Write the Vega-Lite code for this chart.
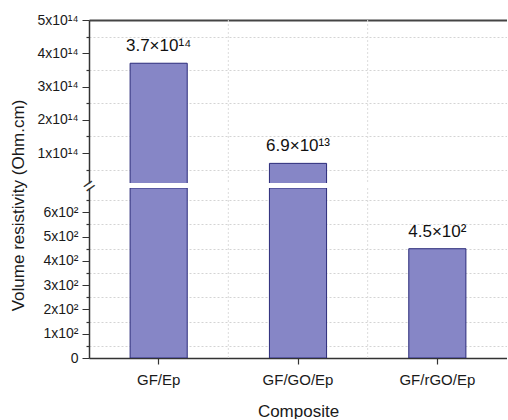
{
  "$schema": "https://vega.github.io/schema/vega-lite/v6.json",
  "padding": {"left": 8, "top": 13, "right": 0, "bottom": 0},
  "background": "white",
  "config": {
    "font": "Liberation Sans",
    "view": {"stroke": null},
    "axis": {
      "labelFont": "Liberation Sans",
      "titleFont": "Liberation Sans",
      "domainColor": "#333",
      "tickColor": "#333",
      "labelColor": "#1a1a1a",
      "titleColor": "#1a1a1a",
      "titleFontWeight": "normal",
      "labelFontSize": 14,
      "titleFontSize": 17,
      "domainWidth": 1.5,
      "tickWidth": 1.2,
      "labelOverlap": false
    }
  },
  "datasets": {
    "rows": [
      {"composite": "GF/Ep", "resistivity": 3.7e14, "label": "3.7×10¹⁴"},
      {"composite": "GF/GO/Ep", "resistivity": 6.9e13, "label": "6.9×10¹³"},
      {"composite": "GF/rGO/Ep", "resistivity": 450, "label": "4.5×10²"}
    ]
  },
  "data": {"name": "rows"},
  "spacing": 5,
  "bounds": "flush",
  "vconcat": [
    {
      "width": 418,
      "height": 163,
      "encoding": {
        "x": {
          "field": "composite", "type": "nominal", "sort": null,
          "scale": {"domain": ["GF/Ep", "GF/GO/Ep", "GF/rGO/Ep"], "paddingInner": 0, "paddingOuter": 0},
          "axis": {"orient": "top", "title": null, "labels": false, "ticks": false, "domain": true, "domainWidth": 2.2, "domainColor": "#444", "grid": false}
        }
      },
      "layer": [
        {
          "transform": [{"filter": "datum.composite != 'GF/Ep'"}],
          "mark": {"type": "rule", "color": "#dcdcdc", "strokeDash": [2, 2], "strokeWidth": 1},
          "encoding": {"x": {"field": "composite", "type": "nominal", "bandPosition": 0}}
        },
        {
          "transform": [{"filter": "datum.resistivity > 1e13"}],
          "mark": {"type": "bar", "width": {"band": 0.41}, "fill": "#8686c6", "stroke": "#2b2b7a", "strokeWidth": 1, "clip": true},
          "encoding": {
            "y": {
              "field": "resistivity", "type": "quantitative",
              "scale": {"domain": [1e13, 5e14], "nice": false, "zero": false},
              "axis": {
                "values": [5e13, 1e14, 1.5e14, 2e14, 2.5e14, 3e14, 3.5e14, 4e14, 4.5e14, 5e14],
                "tickCount": 100,
                "labelExpr": "datum.value % 1e14 == 0 ? format(datum.value / 1e14, 'd') + 'x10¹⁴' : ''",
                "labelOverlap": false,
                "labelBound": false,
                "tickSize": 7,
                "tickDash": {"condition": {"test": "datum.value % 1e14 == 0", "value": [1, 0]}, "value": [3, 10]},
                "labelPadding": 4,
                "grid": true,
                "gridDash": [2, 2],
                "gridColor": {"condition": {"test": "datum.value % 1e14 == 0", "value": "transparent"}, "value": "#d4d4d4"},
                "title": "=",
                "titleAngle": -35,
                "titleX": 0,
                "titleY": 166,
                "titleAlign": "center",
                "titleBaseline": "middle",
                "titleFontSize": 20,
                "titleColor": "#333"
              }
            },
            "y2": {"datum": 0}
          }
        },
        {
          "transform": [{"filter": "datum.resistivity > 1e13"}],
          "mark": {"type": "text", "baseline": "bottom", "dy": -8, "fontSize": 17, "color": "#111"},
          "encoding": {
            "y": {"field": "resistivity", "type": "quantitative"},
            "text": {"field": "label"}
          }
        }
      ]
    },
    {
      "width": 418,
      "height": 170,
      "encoding": {
        "x": {
          "field": "composite", "type": "nominal", "sort": null,
          "scale": {"domain": ["GF/Ep", "GF/GO/Ep", "GF/rGO/Ep"], "paddingInner": 0, "paddingOuter": 0},
          "axis": {"orient": "bottom", "title": "Composite", "labelAngle": 0, "labelFontSize": 15, "tickSize": 6, "labelPadding": 8, "titlePadding": 16, "grid": false}
        }
      },
      "layer": [
        {
          "transform": [{"filter": "datum.composite != 'GF/Ep'"}],
          "mark": {"type": "rule", "color": "#dcdcdc", "strokeDash": [2, 2], "strokeWidth": 1},
          "encoding": {"x": {"field": "composite", "type": "nominal", "bandPosition": 0}}
        },
        {
          "mark": {"type": "bar", "width": {"band": 0.41}, "fill": "#8686c6", "stroke": "#2b2b7a", "strokeWidth": 1, "clip": true},
          "encoding": {
            "y": {
              "field": "resistivity", "type": "quantitative",
              "scale": {"domain": [0, 700], "nice": false, "zero": true, "clamp": true},
              "axis": {
                "values": [0, 50, 100, 150, 200, 250, 300, 350, 400, 450, 500, 550, 600, 650],
                "tickCount": 100,
                "labelExpr": "datum.value == 0 ? '0' : (datum.value % 100 == 0 ? format(datum.value / 100, 'd') + 'x10²' : '')",
                "labelOverlap": false,
                "tickSize": 7,
                "tickDash": {"condition": {"test": "datum.value % 100 == 0", "value": [1, 0]}, "value": [3, 10]},
                "labelPadding": 4,
                "grid": true,
                "gridDash": [2, 2],
                "gridColor": {"condition": {"test": "datum.value % 100 == 0", "value": "transparent"}, "value": "#d4d4d4"},
                "title": "Volume resistivity (Ohm.cm)",
                "titleX": -71,
                "titleY": 17,
                "titleAlign": "center",
                "titleBaseline": "middle"
              }
            }
          }
        },
        {
          "transform": [{"filter": "datum.resistivity < 1e13"}],
          "mark": {"type": "text", "baseline": "bottom", "dy": -8, "fontSize": 17, "color": "#111"},
          "encoding": {
            "y": {"field": "resistivity", "type": "quantitative"},
            "text": {"field": "label"}
          }
        }
      ]
    }
  ]
}
